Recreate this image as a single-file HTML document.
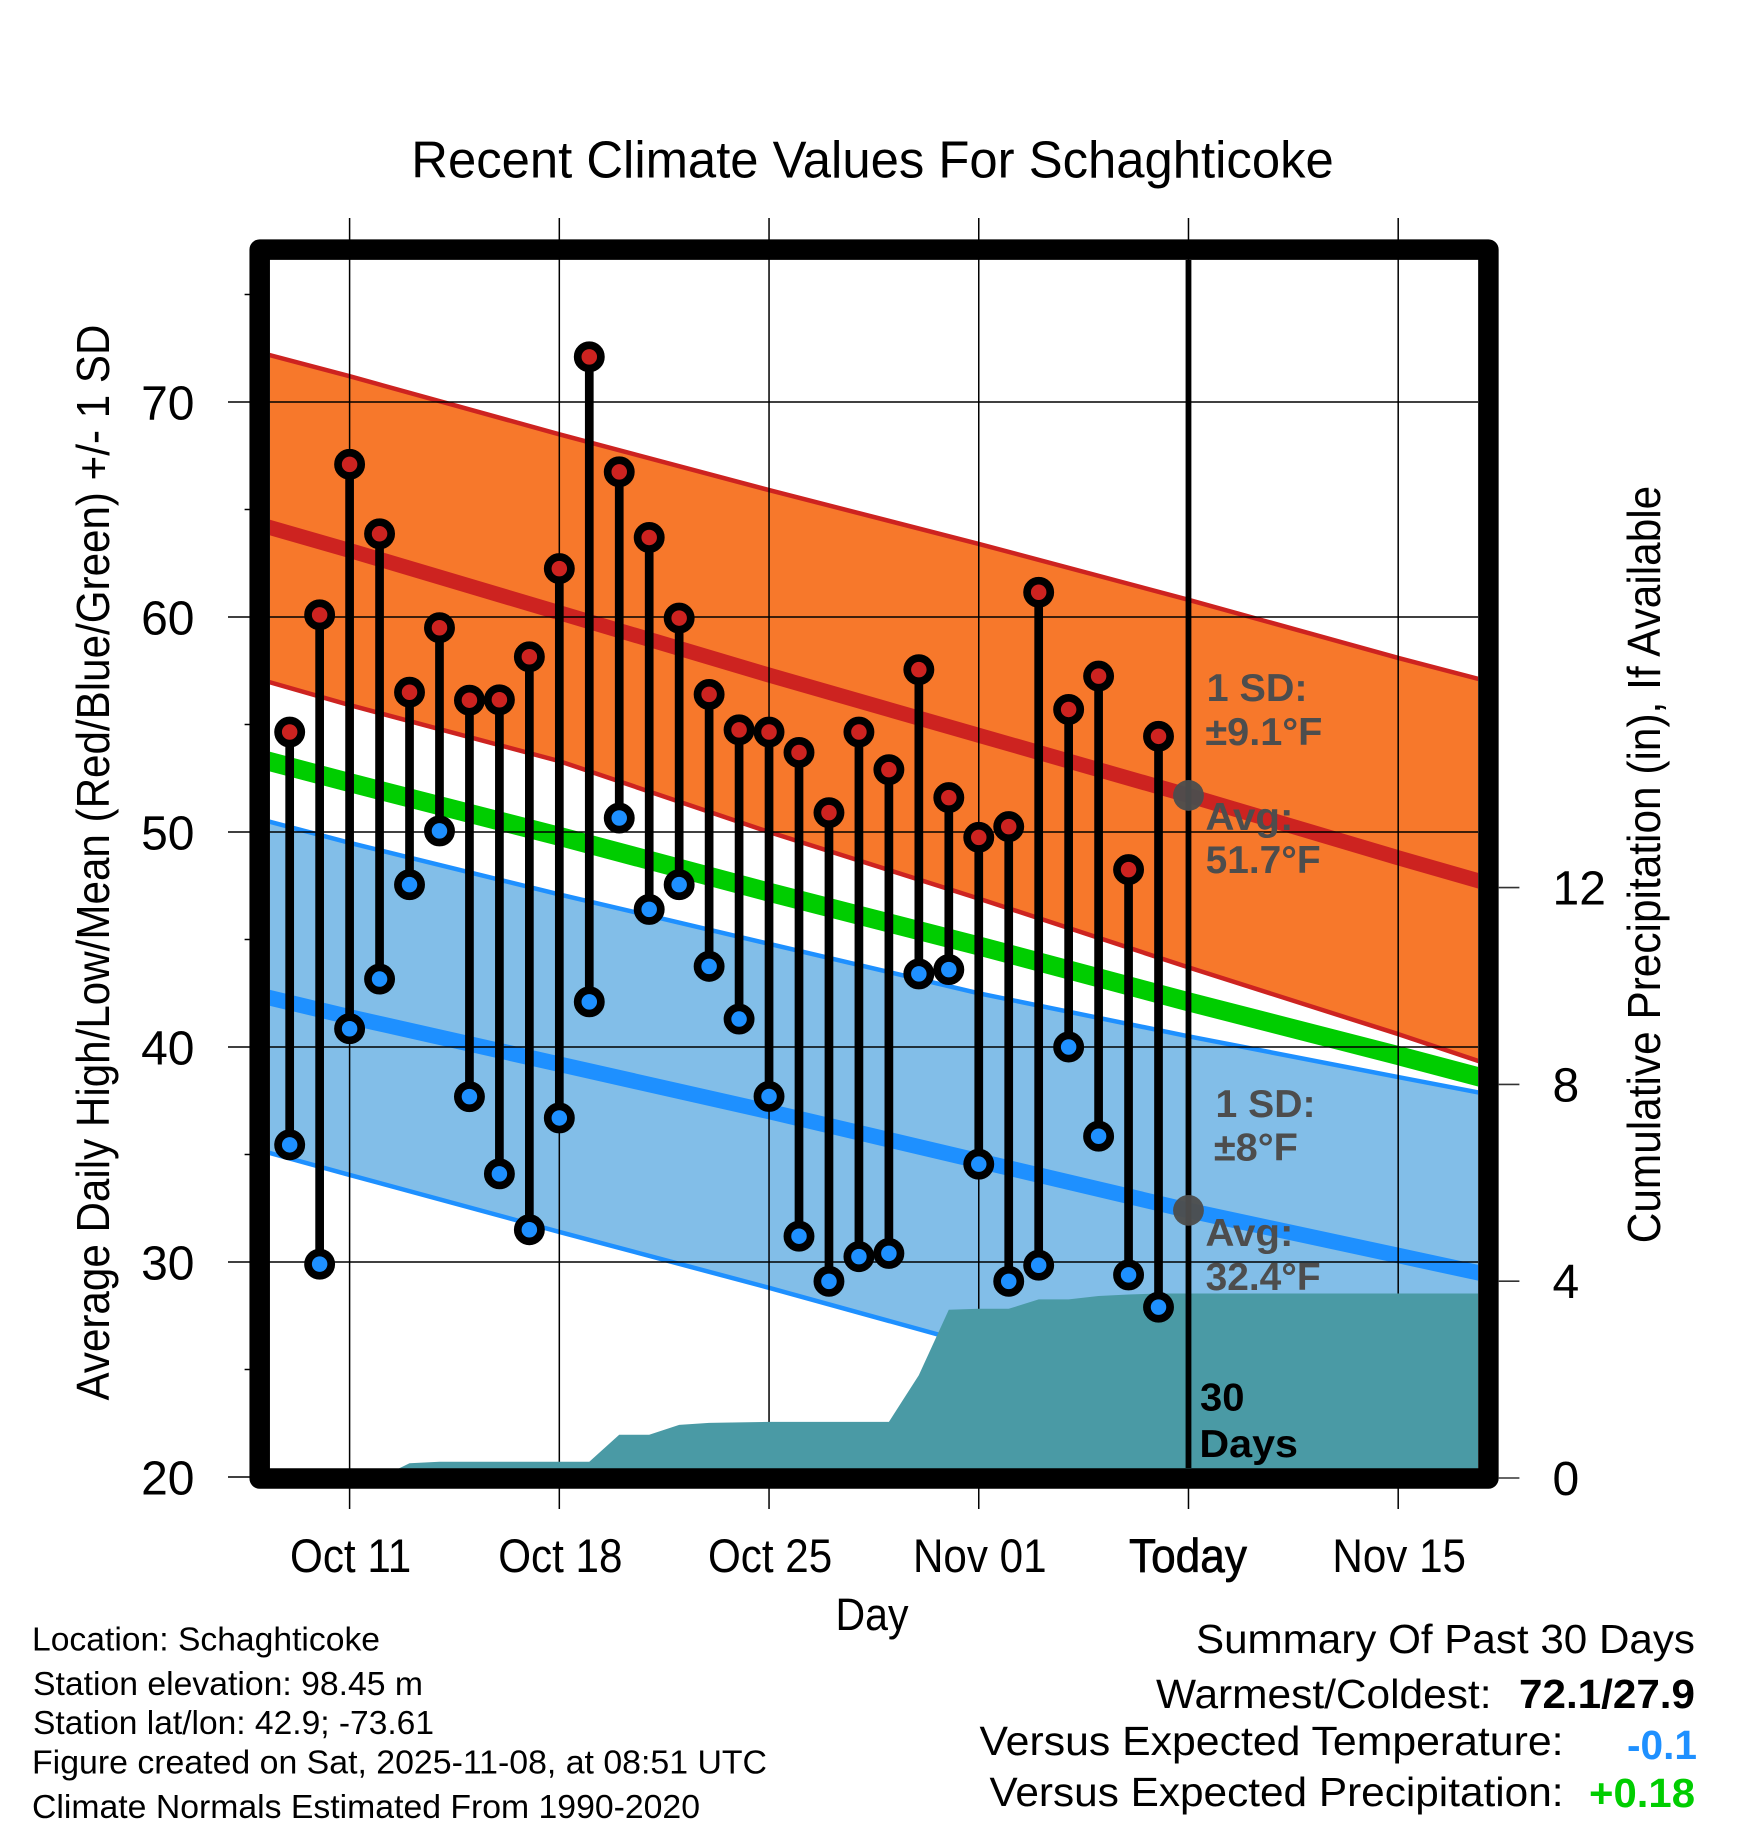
<!DOCTYPE html>
<html lang="en">
<head>
<meta charset="utf-8">
<title>Recent Climate Values For Schaghticoke</title>
<style>
html,body{margin:0;padding:0;background:#fff;}
svg{display:block;font-family:"Liberation Sans",Arial,sans-serif;}
.bold{font-weight:bold;}
.note{font-weight:bold;font-size:39px;fill:#4d4d4d;}
.foot{font-size:33.5px;fill:#000;}
.sum{font-size:41px;fill:#000;}
</style>
</head>
<body>
<svg id="chart" xmlns="http://www.w3.org/2000/svg" width="1748" height="1828" viewBox="0 0 1748 1828">
  <rect x="0" y="0" width="1748" height="1828" fill="#ffffff"/>
  <defs>
    <clipPath id="plot-clip"><rect x="270" y="260" width="1208" height="1208.5"/></clipPath>
  </defs>
  <text x="872.5" y="177.5" font-size="52" text-anchor="middle" textLength="922.5" lengthAdjust="spacingAndGlyphs">Recent Climate Values For Schaghticoke</text>

  <g id="under" clip-path="url(#plot-clip)"></g>
  <g id="grid"></g>
  <g id="precip" clip-path="url(#plot-clip)"></g>
  <g id="notes-under"></g>
  <g id="marks"></g>
  <rect x="259.7" y="249.6" width="1228.7" height="1228.9" fill="none" stroke="#000" stroke-width="20.5" stroke-linejoin="round"/>
  <g id="ticks"></g>

  <text transform="translate(109,862.5) rotate(-90)" font-size="46" text-anchor="middle" textLength="1076" lengthAdjust="spacingAndGlyphs">Average Daily High/Low/Mean (Red/Blue/Green) +/- 1 SD</text>
  <text transform="translate(1660,864.5) rotate(-90)" font-size="46" text-anchor="middle" textLength="757.5" lengthAdjust="spacingAndGlyphs">Cumulative Precipitation (in), If Available</text>
  <text x="872" y="1630" font-size="45" text-anchor="middle" textLength="73" lengthAdjust="spacingAndGlyphs">Day</text>

  <text class="note" x="1206.6" y="701" textLength="101" lengthAdjust="spacingAndGlyphs">1 SD:</text>
  <text class="note" x="1205.4" y="745" textLength="117" lengthAdjust="spacingAndGlyphs">±9.1°F</text>
  <text class="note" x="1205.4" y="830" textLength="88" lengthAdjust="spacingAndGlyphs">Avg:</text>
  <text class="note" x="1205.6" y="873" textLength="115" lengthAdjust="spacingAndGlyphs">51.7°F</text>
  <text class="note" x="1215.5" y="1117" textLength="100" lengthAdjust="spacingAndGlyphs">1 SD:</text>
  <text class="note" x="1213.9" y="1160.7" textLength="84" lengthAdjust="spacingAndGlyphs">±8°F</text>
  <text class="note" x="1205.4" y="1246" textLength="88" lengthAdjust="spacingAndGlyphs">Avg:</text>
  <text class="note" x="1205.6" y="1290" textLength="115" lengthAdjust="spacingAndGlyphs">32.4°F</text>
  <text class="note" style="fill:#000" x="1200" y="1410.7" textLength="44.5" lengthAdjust="spacingAndGlyphs">30</text>
  <text class="note" style="fill:#000" x="1199.4" y="1457" textLength="98.6" lengthAdjust="spacingAndGlyphs">Days</text>

  <text class="foot" x="32" y="1650.7" textLength="348" lengthAdjust="spacingAndGlyphs">Location: Schaghticoke</text>
  <text class="foot" x="33" y="1695" textLength="390" lengthAdjust="spacingAndGlyphs">Station elevation: 98.45 m</text>
  <text class="foot" x="33" y="1734" textLength="401" lengthAdjust="spacingAndGlyphs">Station lat/lon: 42.9; -73.61</text>
  <text class="foot" x="32" y="1773.5" textLength="735" lengthAdjust="spacingAndGlyphs">Figure created on Sat, 2025-11-08, at 08:51 UTC</text>
  <text class="foot" x="32" y="1818" textLength="668" lengthAdjust="spacingAndGlyphs">Climate Normals Estimated From 1990-2020</text>

  <text class="sum" x="1196" y="1653" textLength="499" lengthAdjust="spacingAndGlyphs">Summary Of Past 30 Days</text>
  <text class="sum" x="1156" y="1708" textLength="335.5" lengthAdjust="spacingAndGlyphs">Warmest/Coldest:</text>
  <text class="sum bold" x="1519" y="1708" textLength="176" lengthAdjust="spacingAndGlyphs">72.1/27.9</text>
  <text class="sum" x="979.5" y="1755" textLength="584" lengthAdjust="spacingAndGlyphs">Versus Expected Temperature:</text>
  <text class="sum bold" style="fill:#1e90ff" x="1627" y="1759" textLength="70" lengthAdjust="spacingAndGlyphs">-0.1</text>
  <text class="sum" x="989.5" y="1806" textLength="574" lengthAdjust="spacingAndGlyphs">Versus Expected Precipitation:</text>
  <text class="sum bold" style="fill:#00cd00" x="1589" y="1807" textLength="106" lengthAdjust="spacingAndGlyphs">+0.18</text>
</svg>

<script>
// ---- data ----
var firstDay = -2;
var dailyHigh = [54.65,60.1,67.1,63.87,56.5,59.5,56.13,56.15,58.15,62.25,72.1,66.75,63.7,59.95,56.4,54.75,54.65,53.7,50.9,54.65,52.9,57.55,51.6,49.75,50.25,61.15,55.7,57.25,48.25,54.45];
var dailyLow = [35.45,29.9,40.85,43.16,47.55,50.05,37.69,34.1,31.5,36.7,42.1,50.65,46.4,47.55,43.75,41.3,37.7,31.2,29.1,30.25,30.4,43.4,43.6,34.55,29.1,29.85,40.0,35.85,29.4,27.9];
var cumulativePrecip = [0,0,0,0,0.30,0.33,0.33,0.33,0.33,0.33,0.33,0.88,0.88,1.08,1.12,1.13,1.14,1.14,1.14,1.14,1.14,2.09,3.42,3.44,3.44,3.63,3.63,3.70,3.73,3.75];
var normalDays = [-3,0,7,14,21,28,35,38];
var highMean = [64.3,63.1,60.2,57.3,54.5,51.7,48.8,47.6];
var highUpper = [72.3,71.2,68.5,65.9,63.4,60.8,58.1,57.0];
var highLower = [57.1,55.9,53.3,50.0,46.9,43.7,40.6,39.2];
var lowMean = [42.4,41.4,39.2,37.0,34.7,32.4,30.3,29.4];
var lowUpper = [50.6,49.5,47.1,44.8,42.5,40.5,38.6,37.8];
var lowLower = [35.2,34.05,31.4,28.8,26.1,24.4,22.0,21.1];
var overallMean = [53.4,52.3,49.8,47.2,44.7,42.1,39.6,38.5];
var xTickDays = [0,7,14,21,28,35];
var xTickLabels = ["Oct 11","Oct 18","Oct 25","Nov 01","Today","Nov 15"];
var yTickValues = [20,30,40,50,60,70];
var yMinorValues = [25,35,45,55,65,75];
var precipTickValues = [0,4,8,12];
var todayDay = 28;
var todayHighMean = 51.7;
var todayLowMean = 32.4;

// ---- axis functions ----
function xOf(day){ return 349.6 + day * 29.96; }
function yOf(temp){ return 1477 - (temp - 20) * 21.5; }
function pOf(inches){ return 1478 - inches * 49.2; }

var NS = "http://www.w3.org/2000/svg";
function make(parent, tag, attrs){
  var el = document.createElementNS(NS, tag);
  for (var k in attrs) el.setAttribute(k, attrs[k]);
  parent.appendChild(el);
  return el;
}
function fit(el, ratio){
  el.setAttribute("textLength", (el.getComputedTextLength() * ratio).toFixed(1));
  el.setAttribute("lengthAdjust", "spacingAndGlyphs");
}
function pts(days, vals){
  return days.map(function(d, i){ return xOf(d).toFixed(1) + "," + yOf(vals[i]).toFixed(1); });
}

var under = document.getElementById("under");
var grid = document.getElementById("grid");
var precip = document.getElementById("precip");
var notes = document.getElementById("notes-under");
var marks = document.getElementById("marks");
var ticks = document.getElementById("ticks");

// normal bands
var highBand = make(under, "polygon", {points: pts(normalDays, highUpper).concat(pts(normalDays, highLower).reverse()).join(" "), fill: "#f7782b"});


var lowBand = make(under, "polygon", {points: pts(normalDays, lowUpper).concat(pts(normalDays, lowLower).reverse()).join(" "), fill: "#82bee8"});



var highUpperLine = make(under, "polyline", {points: pts(normalDays, highUpper).join(" "), fill: "none", stroke: "#cd2320", "stroke-width": 4.5});


var highLowerLine = make(under, "polyline", {points: pts(normalDays, highLower).join(" "), fill: "none", stroke: "#cd2320", "stroke-width": 4.5});


var lowUpperLine = make(under, "polyline", {points: pts(normalDays, lowUpper).join(" "), fill: "none", stroke: "#1e90ff", "stroke-width": 4.5});


var lowLowerLine = make(under, "polyline", {points: pts(normalDays, lowLower).join(" "), fill: "none", stroke: "#1e90ff", "stroke-width": 4.5});


var meanLine = make(under, "polyline", {points: pts(normalDays, overallMean).join(" "), fill: "none", stroke: "#00cd00", "stroke-width": 19});


var highMeanLine = make(under, "polyline", {points: pts(normalDays, highMean).join(" "), fill: "none", stroke: "#cd2320", "stroke-width": 15});


var lowMeanLine = make(under, "polyline", {points: pts(normalDays, lowMean).join(" "), fill: "none", stroke: "#1e90ff", "stroke-width": 15.5});



// grid lines and ticks
xTickDays.forEach(function(d, i){
  var gl = make(grid, "line", {x1: xOf(d), x2: xOf(d), y1: 218, y2: 1509, stroke: "#000", "stroke-width": 1.5});
  
  
  var isToday = d === todayDay;
  var lb = make(ticks, "text", {x: xOf(d) + (isToday ? -0.5 : 1), y: 1572, "font-size": 47, "text-anchor": "middle"});
  
  
  lb.textContent = xTickLabels[i];
  fit(lb, isToday ? 0.94 : 0.897);
  if (isToday) { lb.setAttribute("stroke", "#000"); lb.setAttribute("stroke-width", "0.7"); }
});
yTickValues.forEach(function(v){
  var gl = make(grid, "line", {x1: 228, x2: 1478, y1: yOf(v), y2: yOf(v), stroke: "#000", "stroke-width": 1.6});
  
  
  var lb = make(ticks, "text", {x: 194.5, y: yOf(v) + 17.5, "font-size": 48, "text-anchor": "end"});
  
  
  lb.textContent = String(v);
  fit(lb, 1.0);
});
yMinorValues.forEach(function(v){
  var mt = make(ticks, "line", {x1: 244.6, x2: 250, y1: yOf(v), y2: yOf(v), stroke: "#000", "stroke-width": 1.5});
  
  
});
precipTickValues.forEach(function(v){
  var rt = make(ticks, "line", {x1: 1498, x2: 1519.4, y1: pOf(v), y2: pOf(v), stroke: "#333", "stroke-width": 1.6});
  
  
  var lb = make(ticks, "text", {x: 1552.5, y: pOf(v) + 17, "font-size": 48, "text-anchor": "start"});
  
  
  lb.textContent = String(v);
  fit(lb, 1.0);
});

// cumulative precipitation area
var precipPts = [xOf(firstDay).toFixed(1) + "," + pOf(0).toFixed(1)];
cumulativePrecip.forEach(function(v, i){
  precipPts.push(xOf(firstDay + i).toFixed(1) + "," + pOf(v).toFixed(1));
});
precipPts.push(xOf(38).toFixed(1) + "," + pOf(cumulativePrecip[cumulativePrecip.length - 1]).toFixed(1));
precipPts.push(xOf(38).toFixed(1) + "," + pOf(0).toFixed(1));
var precipArea = make(precip, "polygon", {points: precipPts.join(" "), fill: "#4a9aa5"});



// today line and mean markers
var todayLine = make(notes, "line", {x1: xOf(todayDay), x2: xOf(todayDay), y1: 260, y2: 1468, stroke: "#000", "stroke-width": 5.8});


var todayHigh = make(notes, "circle", {cx: xOf(todayDay), cy: yOf(todayHighMean), r: 15.4, fill: "#4d4d4d", "fill-opacity": 0.96});


var todayLow = make(notes, "circle", {cx: xOf(todayDay), cy: yOf(todayLowMean), r: 15.4, fill: "#4d4d4d", "fill-opacity": 0.96});



// daily high/low stems
dailyHigh.forEach(function(h, i){
  var d = firstDay + i;
  var stem = make(marks, "line", {x1: xOf(d), x2: xOf(d), y1: yOf(h), y2: yOf(dailyLow[i]), stroke: "#000", "stroke-width": 8.7});
  
  
});
dailyHigh.forEach(function(h, i){
  var d = firstDay + i;
  var hi = make(marks, "circle", {cx: xOf(d), cy: yOf(h), r: 11.6, fill: "#cd2320", stroke: "#000", "stroke-width": 7.7});
  
  
  var lo = make(marks, "circle", {cx: xOf(d), cy: yOf(dailyLow[i]), r: 11.6, fill: "#1e90ff", stroke: "#000", "stroke-width": 7.7});
  
  
});
</script>
</body>
</html>
